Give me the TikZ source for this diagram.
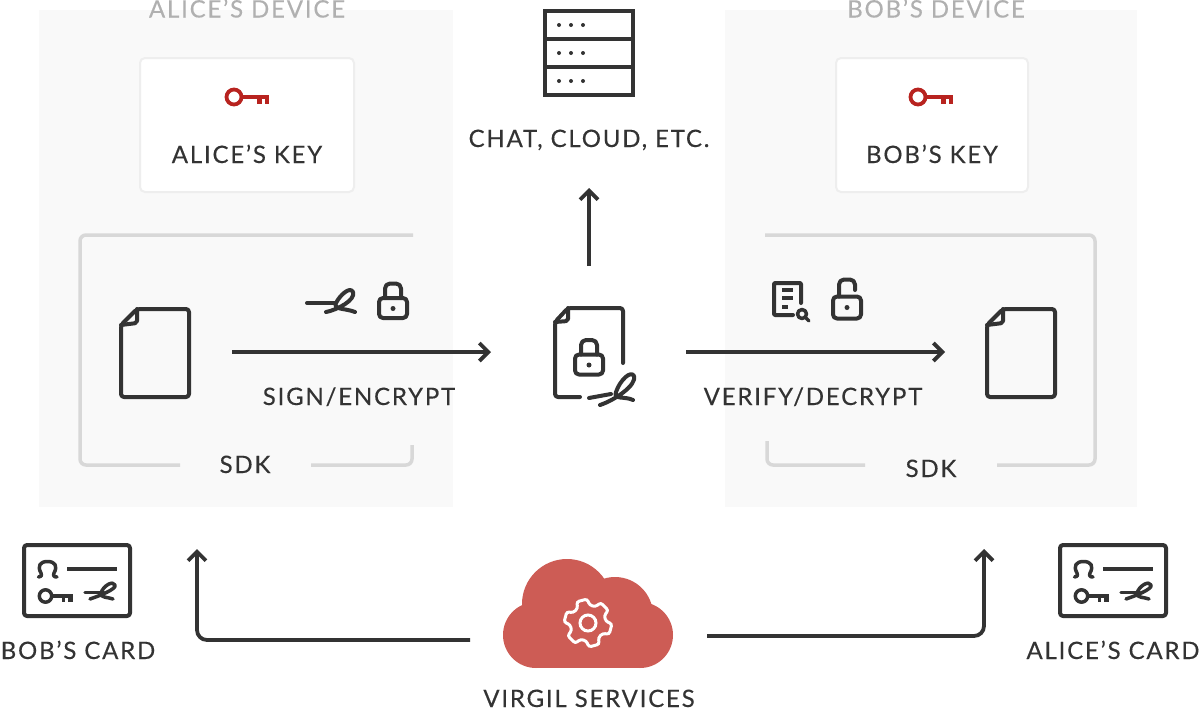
\documentclass[tikz,border=0pt]{standalone}
\usepackage{fontspec}
\setmainfont[LetterSpace=7.5,FakeBold=0.3]{Lato}
\usetikzlibrary{arrows.meta}
\definecolor{ink}{HTML}{333333}
\definecolor{panel}{HTML}{F9F9F9}
\definecolor{frameg}{HTML}{D8D8D8}
\definecolor{keyborder}{HTML}{EEEEEE}
\definecolor{titleg}{HTML}{B0B0B0}
\definecolor{keyred}{HTML}{B8231F}
\definecolor{cloudred}{HTML}{CD5C55}
\tikzset{
  x=1pt,y=-1pt,
  panelbox/.style={fill=panel,draw=none},
  keybox/.style={fill=white,draw=keyborder,line width=2pt,rounded corners=5pt},
  sdkframe/.style={draw=frameg,line width=3.5pt,rounded corners=6pt},
  lbl/.style={inner sep=0pt,anchor=base,text=ink,font=\fontsize{24}{26}\selectfont},
  ttl/.style={lbl,text=titleg},
  flow/.style={draw=ink,line width=3.8pt,-{Straight Barb[length=9pt,width=18pt,line width=3.8pt]},rounded corners=10pt},
  icon/.style={draw=ink,line width=4pt,line cap=round,line join=round},
  pics/sig/.style={code={
    \draw[icon] (0,0) -- (28,0);
    \draw[icon] (19,9) .. controls (30,7) and (49,-3) .. (46,-11) .. controls (43,-17) and (33,-8) .. (29,0) .. controls (26,7) and (38,5) .. (48,9);
  }},
  pics/docbody/.style={code={
    \draw[icon,rounded corners=3pt] (1,17) -- (17,1) -- (69,1) -- (69,89) -- (1,89) -- cycle;
    \draw[icon,rounded corners=2pt] (17,1) -- (17,15) -- (1,17);
  }},
  pics/lockshut/.style={code={
    \draw[icon,rounded corners=4pt] (-14,-10) rectangle (14,10);
    \draw[icon,rounded corners=5pt] (-8,-10) -- (-8,-24.5) -- (8,-24.5) -- (8,-10);
    \fill[ink] (0,0.5) circle (2.5);
  }},
  pics/lockopen/.style={code={
    \draw[icon,rounded corners=4pt] (-14,-11) rectangle (14,11);
    \draw[icon,rounded corners=5pt] (-8,-11) -- (-8,-28) -- (8,-28) -- (8,-17.5);
    \fill[ink] (0,0) circle (2.5);
  }},
  pics/redkey/.style={code={
    \draw[keyred,line width=3.8pt] (0,0) circle (7.5);
    \fill[keyred] (9,-2) rectangle (35,1.5);
    \fill[keyred] (23,-2) rectangle (28,7);
    \fill[keyred] (31,-2) rectangle (35,7);
  }},
  pics/idcard/.style={code={
    \draw[icon,rounded corners=3pt] (0,0) rectangle (106,71);
    \draw[icon,line cap=butt] (43,24) -- (93,24);
    \draw[icon,line width=3.5pt] (14.5,32) .. controls (17,32) and (18,31) .. (17,28) .. controls (13,21) and (16,16.5) .. (23.5,16.5) .. controls (31,16.5) and (34,21) .. (30,28) .. controls (29,31) and (30,32) .. (33,32);
    \draw[icon,line width=3.5pt] (21.5,51) circle (6.2);
    \fill[ink] (27,49) rectangle (49,53);
    \fill[ink] (38,49) rectangle (41,56.5);
    \fill[ink] (44,49) rectangle (49,56.5);
    \draw[icon,line width=3.5pt] (61,47.5) -- (80,47.5);
    \draw[icon,line width=3.5pt] (66,54) .. controls (75,51) and (93,44) .. (91,40) .. controls (89,35) and (79,41) .. (77,48) .. controls (76,53) and (84,52) .. (89,54);
  }}
}
\begin{document}
\begin{tikzpicture}
\useasboundingbox (0,0) rectangle (1200,710);
% panels
\fill[panelbox] (39,10) rectangle (453,507);
\fill[panelbox] (725,10) rectangle (1137,507);
\node[ttl] (alicedev) at (247,17.5) {ALICE’S DEVICE};
\node[ttl] (bobdev) at (936,17.5) {BOB’S DEVICE};
% key boxes
\draw[keybox] (140,58) rectangle (354,192);
\draw[keybox] (836,58) rectangle (1028,192);
\pic at (234,97) {redkey};
\pic at (918,97) {redkey};
\node[lbl] (alicekey) at (247,163) {ALICE’S KEY};
\node[lbl] (bobkey) at (932,163) {BOB’S KEY};
% SDK frames
\draw[sdkframe] (413,235) -- (80,235) -- (80,465) -- (180,465);
\draw[sdkframe] (311,465) -- (412,465) -- (412,445);
\draw[sdkframe] (765,235) -- (1095,235) -- (1095,465) -- (997,465);
\draw[sdkframe] (865,465) -- (767,465) -- (767,441);
\node[lbl] (sdka) at (245,473) {SDK};
\node[lbl] (sdkb) at (931,477) {SDK};
% server
\draw[draw=ink,line width=4pt] (545,11) rectangle (633,95);
\draw[draw=ink,line width=4pt] (545,39) -- (633,39) (545,67) -- (633,67);
\foreach \yy in {25,53,81}{\foreach \xx in {559,571,583}{\fill[ink] (\xx,\yy) circle (2);}}
\node[lbl] (chat) at (589,147) {CHAT, CLOUD, ETC.};
% documents
\pic at (120,308) {docbody};
\pic at (986,308) {docbody};
\draw[icon,rounded corners=3pt] (580,397) -- (555,397) -- (555,322) -- (568,308) -- (623,308) -- (623,363);
\draw[icon,rounded corners=2pt] (568,308) -- (568,321) -- (555,322);
\pic at (589,364.5) {lockshut};
\draw[icon] (589,398) -- (611,394);
\draw[icon] (600,405) .. controls (615,400) and (637,385) .. (634,376) .. controls (631,370) and (620,380) .. (616,392) .. controls (613,400) and (625,396) .. (633,400);
% sign / lock icons
\pic at (307,303) {sig};
\pic at (393,308) {lockshut};
\pic at (847,307.5) {lockopen};
% verify doc
\draw[icon,rounded corners=1pt] (793,315) -- (774,315) -- (774,283) -- (801,283) -- (801,303);
\draw[icon,line cap=butt,line width=3.5pt] (782,290) -- (793,290) (782,298) -- (793,298) (782,307) -- (788,307);
\draw[icon,line width=3.5pt] (802,314) circle (4.5);
\draw[icon,line width=3.5pt] (806,318) -- (809,321);
% flows
\coordinate (a1) at (232,352); \coordinate (a2) at (491,352);
\coordinate (b1) at (686,352); \coordinate (b2) at (945,352);
\coordinate (c1) at (589,266); \coordinate (c2) at (589,188);
\draw[flow] (a1) -- (a2);
\draw[flow] (b1) -- (b2);
\draw[flow] (c1) -- (c2);
\node[lbl] (sign) at (359,405) {SIGN/ENCRYPT};
\node[lbl] (verify) at (813,405) {VERIFY/DECRYPT};
% cloud
\fill[cloudred] (567,604) circle (45);
\fill[cloudred] (615,615) circle (38);
\fill[cloudred] (536,635) circle (33);
\fill[cloudred] (640,635) circle (33);
\fill[cloudred] (536,610) rectangle (640,668);
\begin{scope}[shift={(588,623)}]
\draw[white,line width=3pt,rounded corners=2.5pt]
  (-58:24) -- (-32:24) -- (-25:18) -- (-5:18) -- (2:24) -- (28:24) -- (35:18) -- (55:18) -- (62:24) -- (88:24) -- (95:18) -- (115:18) -- (122:24) -- (148:24) -- (155:18) -- (175:18) -- (182:24) -- (208:24) -- (215:18) -- (235:18) -- (242:24) -- (268:24) -- (275:18) -- (295:18) -- cycle;
\draw[white,line width=3pt] (0,0) circle (8);
\end{scope}
\node[lbl] (virgil) at (589,707) {VIRGIL SERVICES};
% cards
\pic at (24,545) {idcard};
\pic at (1060,545) {idcard};
\node[lbl] (bobcard) at (78,659) {BOB’S CARD};
\node[lbl] (alicecard) at (1113,659) {ALICE’S CARD};
\coordinate (d1) at (470,640); \coordinate (d2) at (197,549);
\coordinate (e1) at (707,636); \coordinate (e2) at (984,549);
\draw[flow] (d1) -| (d2);
\draw[flow] (e1) -| (e2);
\end{tikzpicture}
\end{document}
